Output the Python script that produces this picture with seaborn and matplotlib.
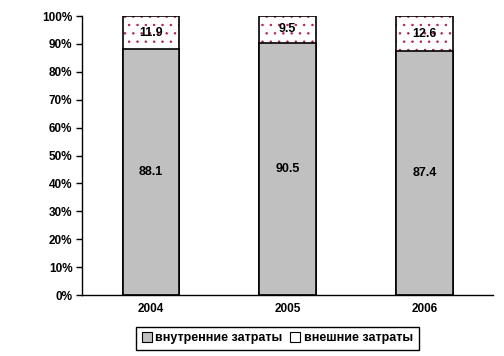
import matplotlib
matplotlib.use('Agg')
import matplotlib.pyplot as plt
import seaborn as sns
import pandas as pd
from matplotlib.patches import Patch

years = ['2004', '2005', '2006']
internal = [88.1, 90.5, 87.4]
external = [11.9, 9.5, 12.6]
labels = ['внутренние затраты', 'внешние затраты']

sns.set_style('white')
plt.rcParams['font.family'] = ['Liberation Sans', 'DejaVu Sans']
plt.rcParams['font.weight'] = 'bold'
plt.rcParams['text.color'] = 'black'
plt.rcParams['xtick.color'] = 'black'
plt.rcParams['ytick.color'] = 'black'
plt.rcParams['hatch.linewidth'] = 0.5

df = pd.DataFrame({'year': years, 'internal': internal, 'external': external})
df['total'] = df['internal'] + df['external']

fig = plt.figure(figsize=(5.04, 3.56), dpi=100)
ax = fig.add_axes([0.163, 0.171, 0.815, 0.784])

dot = '#c0104a'
grey = '#c0c0c0'
w = 0.41

# dotted upper part (full height, covered below by the grey part)
sns.barplot(data=df, x='year', y='total', color='white', width=w,
            hatch='..', edgecolor=dot, linewidth=0, ax=ax)
sns.barplot(data=df, x='year', y='total', fill=False, width=w,
            edgecolor='black', linewidth=1.2, ax=ax)
sns.barplot(data=df, x='year', y='internal', color=grey, width=w,
            edgecolor='black', linewidth=1.2, saturation=1, ax=ax)

for i in range(len(years)):
    ax.text(i, internal[i] / 2, f'{internal[i]:.1f}', ha='center', va='center',
            fontsize=9, fontweight='bold')
    ax.text(i, internal[i] + external[i] / 2, f'{external[i]:.1f}', ha='center',
            va='center', fontsize=9, fontweight='bold')

ax.set_ylim(0, 100)
ax.set_xlim(-0.5, 2.5)
ax.set_yticks(range(0, 101, 10))
ax.set_yticklabels([f'{v}%' for v in range(0, 101, 10)], fontsize=8.5)
ax.set_xticks(range(3))
ax.set_xticklabels(years, fontsize=8.5)
ax.set_xticks([-0.5, 0.5, 1.5, 2.5], minor=True)
ax.tick_params(axis='x', which='major', length=0, pad=6)
ax.tick_params(axis='x', which='minor', length=4, width=1, color='black', direction='out')
ax.tick_params(axis='y', length=4, width=1, color='black', direction='out', left=True, pad=3)
ax.set_xlabel('')
ax.set_ylabel('')
for s in ['top', 'right']:
    ax.spines[s].set_visible(False)
for s in ['left', 'bottom']:
    ax.spines[s].set_color('black')
    ax.spines[s].set_linewidth(1)

handles = [Patch(facecolor=grey, edgecolor='black', linewidth=0.8),
           Patch(facecolor='white', edgecolor='black', linewidth=0.8)]
leg = fig.legend(handles, labels, loc='center', bbox_to_anchor=(0.55, 0.05), ncol=2,
                 fancybox=False, edgecolor='black', fontsize=9, handlelength=0.8,
                 handleheight=0.8, handletextpad=0.3, columnspacing=0.6,
                 borderpad=0.45, framealpha=1)
leg.get_frame().set_linewidth(1)

fig.savefig('out.png', dpi=100)
